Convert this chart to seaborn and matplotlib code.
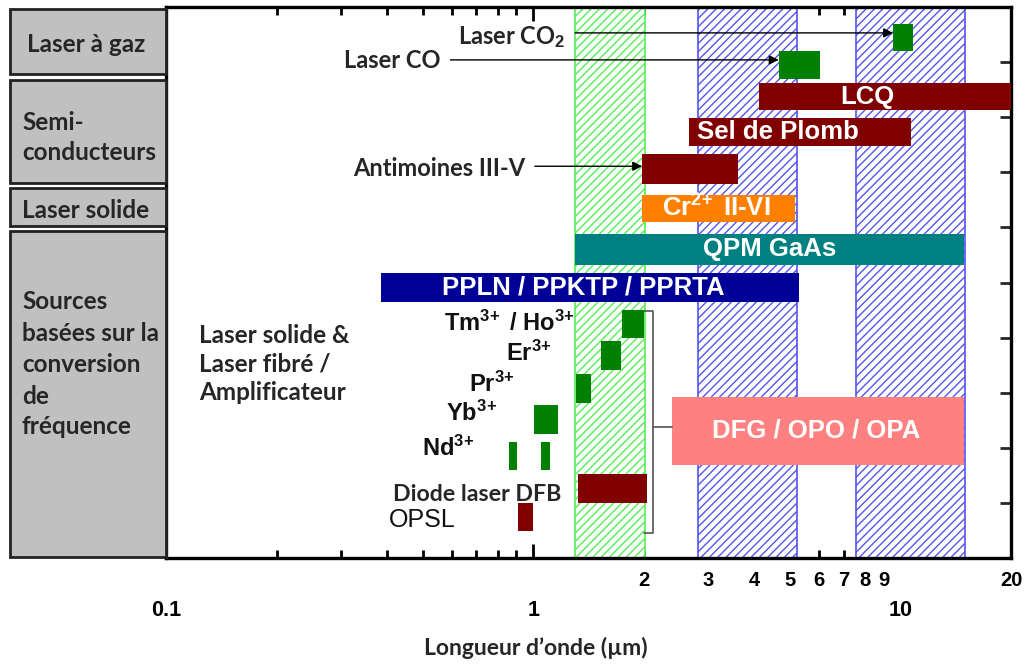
import numpy as np
import pandas as pd
import matplotlib
matplotlib.use('Agg')
import matplotlib.pyplot as plt
from matplotlib.patches import Rectangle
from matplotlib.ticker import FixedLocator, FixedFormatter
import seaborn as sns

# ---------------- data ----------------
bar_names = ['Laser CO2', 'Laser CO', 'LCQ', 'Sel de Plomb', 'Antimoines III-V',
             'Cr2+ II-VI', 'QPM GaAs', 'PPLN / PPKTP / PPRTA', 'Tm/Ho', 'Er', 'Pr',
             'Yb', 'Nd a', 'Nd b', 'Diode laser DFB', 'OPSL', 'DFG / OPO / OPA']
bar_kind = ['gas', 'gas', 'semi', 'semi', 'semi', 'cr', 'qpm', 'ppln', 'gas', 'gas',
            'gas', 'gas', 'gas', 'gas', 'semi', 'semi', 'dfg']
bar_start = [9.55, 4.66, 4.11, 2.65, 1.98, 1.98, 1.30, 0.386, 1.745, 1.53, 1.31,
             1.006, 0.86, 1.05, 1.32, 0.91, 2.39]
bar_end = [10.8, 6.02, 20.0, 10.7, 3.61, 5.15, 14.9, 5.28, 2.0, 1.735, 1.44,
           1.17, 0.905, 1.11, 2.04, 1.0, 14.9]
bar_row = [9.445, 8.945, 8.37, 7.73, 7.06, 6.35, 5.6, 4.91, 4.24, 3.68, 3.08,
           2.52, 1.85, 1.85, 1.26, 0.75, 2.31]
bar_thick = [0.49, 0.51, 0.49, 0.51, 0.53, 0.49, 0.55, 0.51, 0.51, 0.53, 0.53,
             0.53, 0.51, 0.51, 0.53, 0.51, 1.24]

band_start = [1.30, 2.81, 7.55]
band_end = [2.01, 5.22, 15.0]
band_kind = ['green', 'blue', 'blue']

# labels drawn inside bars
inbar_text = ['PPLN / PPKTP / PPRTA', 'QPM GaAs', r'Cr$^{2\!+}$ II-VI', 'Sel de Plomb', 'LCQ', 'DFG / OPO / OPA']
inbar_x = [1.367, 4.4, 3.16, 4.63, 8.14, 5.91]
inbar_y = [4.91, 5.6, 6.35, 7.73, 8.37, 2.31]

ion_text = [r'Tm$^{3\!+}$ / Ho$^{3\!+}$', r'Er$^{3\!+}$', r'Pr$^{3\!+}$', r'Yb$^{3\!+}$', r'Nd$^{3\!+}$']
ion_x = [1.30, 1.126, 0.894, 0.798, 0.691]
ion_y = [4.26, 3.72, 3.16, 2.62, 2.0]

# arrows: label, text x (right end), text y, arrow start x, arrow end x, arrow y
arrow_text = ['Laser CO$_2$', 'Laser CO', 'Antimoines III-V']
arrow_tx = [1.22, 0.559, 0.951]
arrow_ty = [9.45, 9.02, 7.07]
arrow_x0 = [1.30, 0.595, 1.01]
arrow_x1 = [9.55, 4.66, 1.98]
arrow_y = [9.53, 9.04, 7.11]

bracket_x = [2.0, 2.12, 2.12, 2.0]
bracket_y = [4.49, 4.49, 0.455, 0.455]
bracket_link_x = [2.12, 2.39]
bracket_link_y = [2.38, 2.38]

major_ticks = [0.1, 1, 10]
major_labels = ['0.1', '1', '10']
minor_ticks = [0.2, 0.3, 0.4, 0.5, 0.6, 0.7, 0.8, 0.9, 2, 3, 4, 5, 6, 7, 8, 9, 20]
minor_labels = [''] * 8 + ['2', '3', '4', '5', '6', '7', '8', '9', '20']

category_names = ['Laser à gaz', 'Semi-\nconducteurs', 'Laser solide',
                  'Sources\nbasées sur la\nconversion\nde\nfréquence']

# ---------------- style ----------------
sns.set_theme(style='white')
plt.rcParams['font.family'] = ['Liberation Sans', 'DejaVu Sans']
plt.rcParams['mathtext.fontset'] = 'custom'
plt.rcParams['mathtext.rm'] = 'Liberation Sans:bold'
plt.rcParams['mathtext.it'] = 'Liberation Sans:bold'
plt.rcParams['mathtext.bf'] = 'Liberation Sans:bold'

CAL = ['Lato', 'DejaVu Sans']
colors = {'gas': '#008000', 'semi': '#800000', 'cr': '#ff8000', 'qpm': '#008080',
          'ppln': '#000096', 'dfg': '#ff8080'}
band_colors = {'green': '#55ee55', 'blue': '#5555ee'}

W, H = 1026, 665
fig = plt.figure(figsize=(W / 100, H / 100), dpi=100)
ax = fig.add_axes([166 / W, 1 - 558 / H, (1011 - 166) / W, (558 - 7) / H])
ax.set_xscale('log')
ax.set_xlim(0.1, 20)
ax.set_ylim(0, 10)

# hatched bands
for s, e, k in zip(band_start, band_end, band_kind):
    ax.axvspan(s, e, facecolor='white', edgecolor=band_colors[k], hatch='////',
               lw=1.2, zorder=1)

# bars
df = pd.DataFrame({'name': bar_names, 'kind': bar_kind, 'start': bar_start,
                   'end': bar_end, 'row': bar_row, 'thick': bar_thick})
for _, r in df.iterrows():
    ax.barh(r['row'], r['end'] - r['start'], left=r['start'], height=r['thick'],
            color=colors[r['kind']], edgecolor='none', zorder=3)

for t, x, y in zip(inbar_text, inbar_x, inbar_y):
    ax.text(x, y, t, color='white', fontsize=18.5, fontweight='bold',
            ha='center', va='center', zorder=5)

for t, x, y in zip(ion_text, ion_x, ion_y):
    ax.text(x, y, t, color='#111111', fontsize=17, fontweight='bold',
            ha='right', va='center', zorder=5)

for t, tx, ty, x0, x1, y in zip(arrow_text, arrow_tx, arrow_ty, arrow_x0, arrow_x1, arrow_y):
    ax.text(tx, ty, t, fontsize=17, fontweight='bold', family=CAL,
            ha='right', va='center', zorder=5)
    ax.annotate('', xy=(x1, y), xytext=(x0, y),
                arrowprops=dict(arrowstyle='-|>', color='black', lw=1,
                                mutation_scale=14, shrinkA=0, shrinkB=0), zorder=6)

ax.text(0.414, 1.16, 'Diode laser DFB', fontsize=16.7, fontweight='bold',
        family=CAL, ha='left', va='center')
ax.text(0.404, 0.69, 'OPSL', fontsize=18, ha='left', va='center', color='#111111')
ax.text(0.123, 3.52, 'Laser solide &\nLaser fibré /\nAmplificateur', fontsize=17.5,
        fontweight='bold', family=CAL, ha='left', va='center', linespacing=1.3)

ax.plot(bracket_x, bracket_y, color='#555555', lw=1.2, zorder=4)
ax.plot(bracket_link_x, bracket_link_y, color='#555555', lw=1.2, zorder=4)

# axes styling
for sp in ax.spines.values():
    sp.set_color('black')
    sp.set_linewidth(2.4)
ax.xaxis.set_major_locator(FixedLocator(major_ticks))
ax.xaxis.set_major_formatter(FixedFormatter(major_labels))
ax.xaxis.set_minor_locator(FixedLocator(minor_ticks))
ax.xaxis.set_minor_formatter(FixedFormatter(minor_labels))
ax.tick_params(axis='x', which='major', direction='in', length=10, width=2,
               top=True, bottom=True, pad=30, labelsize=15.5, colors='black')
ax.tick_params(axis='x', which='minor', direction='in', length=6, width=2,
               top=True, bottom=True, pad=9, labelsize=14.5, colors='black')
for lab in ax.get_xticklabels(which='both'):
    lab.set_fontweight('bold')
ax.set_yticks(np.arange(0, 11, 1))
ax.tick_params(axis='y', which='major', direction='in', length=8, width=2,
               left=False, right=True, labelleft=False, labelright=False)
ax.grid(False)

fig.text(536 / W, 1 - 648 / H, 'Longueur d\u2019onde (\u00b5m)', fontsize=16.5,
         fontweight='bold', family=CAL, ha='center', va='center')

# category boxes on the left
box_y = [(9, 74), (80, 183), (188, 226), (231, 557)]
for (y0, y1), name in zip(box_y, category_names):
    fig.add_artist(Rectangle((10 / W, 1 - y1 / H), 156 / W, (y1 - y0) / H,
                             transform=fig.transFigure, facecolor='#c0c0c0',
                             edgecolor='#222222', lw=2))
text_lines = [(27, [45]), (22, [122, 153]), (22, [210]), (22, [302, 333, 364, 396, 427])]
for (x, ys), name in zip(text_lines, category_names):
    for yy, line in zip(ys, name.split('\n')):
        fig.text(x / W, 1 - yy / H, line, fontsize=17.5, fontweight='bold',
                 family=CAL, ha='left', va='center')

fig.savefig('out.png', dpi=100)
